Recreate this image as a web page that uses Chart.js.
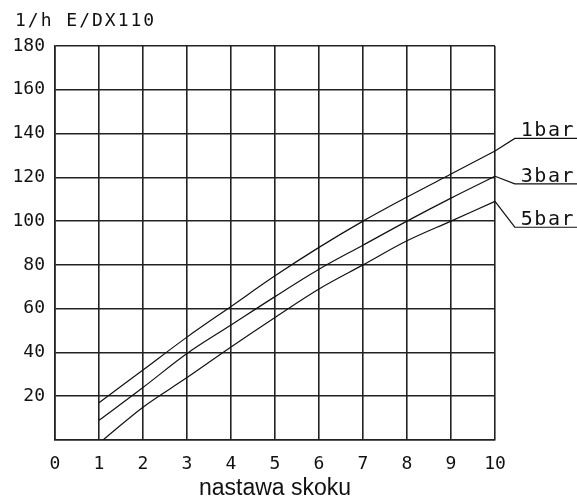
<!DOCTYPE html>
<html>
<head>
<meta charset="utf-8">
<script src="https://cdn.jsdelivr.net/npm/chart.js@4.4.1/dist/chart.umd.min.js"></script>
<style>
  html, body { margin: 0; padding: 0; background: #fff; }
</style>
</head>
<body>
<canvas id="chart" width="577" height="502"></canvas>
<script>
// Stroke setting (nastawa skoku) and flow in l/h for each back pressure
const steps = [1, 2, 3, 4, 5, 6, 7, 8, 9, 10];
const flow1bar = [17, 32, 47, 61, 75, 88, 100, 111, 121.5, 132];
const flow3bar = [9, 24, 39.5, 52.5, 65.5, 78, 89, 100, 110.5, 120.5];
const flow5bar = [-1.5, 15, 28.5, 42.5, 56, 69, 80, 91, 100, 109];
const seriesLabels = ['1bar', '3bar', '5bar'];
// leader lines going out to the labels on the right
const leaderX = [10.45, 11.9];
const leaderY = [137.8, 117, 97.2];
const unitTitle = '1/h E/DX110';
const axisTitle = 'nastawa skoku';

const plotFont = { family: '"DejaVu Sans Mono", monospace', size: 18 };
const gridColor = '#222';
const clipRight = { left: 0, top: 0, right: false, bottom: 0 };

function curve(values, i) {
    return {
        label: seriesLabels[i],
        data: steps.map((s, k) => ({ x: s, y: values[k] })),
        borderColor: '#111',
        borderWidth: 1.2,
        pointRadius: 0,
        cubicInterpolationMode: 'monotone',
        clip: clipRight
    };
}

function leader(values, i) {
    const last = steps.length - 1;
    const pts = [{ x: steps[last], y: values[last] }];
    leaderX.forEach(lx => pts.push({ x: lx, y: leaderY[i] }));
    return {
        label: seriesLabels[i] + ' leader',
        data: pts,
        borderColor: '#111',
        borderWidth: 1.2,
        pointRadius: 0,
        tension: 0,
        clip: clipRight
    };
}

// Title top-left and the bar labels
const textPlugin = {
    id: 'textPlugin',
    afterDraw(chart) {
        const { ctx, scales: { x, y } } = chart;
        ctx.save();
        ctx.fillStyle = '#111';
        ctx.font = `${plotFont.size}px ${plotFont.family}`;
        ctx.letterSpacing = '2px';
        ctx.textBaseline = 'middle';
        ctx.fillText(unitTitle, 15, 21);
        ctx.font = `20px ${plotFont.family}`;
        ctx.letterSpacing = '1.5px';
        ctx.textBaseline = 'alphabetic';
        seriesLabels.forEach((t, i) => {
            ctx.fillText(t, x.getPixelForValue(leaderX[0]) + 6, y.getPixelForValue(leaderY[i]) - 2);
        });
        ctx.restore();
    }
};

new Chart(document.getElementById('chart'), {
    type: 'line',
    data: {
        datasets: [
            curve(flow1bar, 0), curve(flow3bar, 1), curve(flow5bar, 2),
            leader(flow1bar, 0), leader(flow3bar, 1), leader(flow5bar, 2)
        ]
    },
    options: {
        responsive: false,
        animation: false,
        layout: { padding: { top: 46, right: 82, bottom: 0, left: 0 } },
        plugins: {
            legend: { display: false },
            tooltip: { enabled: false }
        },
        scales: {
            x: {
                type: 'linear',
                afterDataLimits: s => { s.min = 0; s.max = 10; },
                afterFit: s => { s.height = 62; },
                ticks: { stepSize: 1, color: '#111', font: plotFont, padding: 14, maxRotation: 0 },
                grid: { color: gridColor, lineWidth: 1.6, drawTicks: false },
                border: { display: true, color: gridColor, width: 1.6 },
                title: {
                    display: true,
                    text: axisTitle,
                    color: '#111',
                    font: { family: '"Liberation Sans", Arial, sans-serif', size: 23 },
                    padding: { top: 0, bottom: 0 }
                }
            },
            y: {
                min: 0,
                max: 180,
                afterFit: s => { s.width = 55; },
                ticks: {
                    stepSize: 20,
                    color: '#111',
                    font: plotFont,
                    padding: 10,
                    callback: v => v === 0 ? '' : v
                },
                grid: { color: gridColor, lineWidth: 1.6, drawTicks: false },
                border: { display: true, color: gridColor, width: 1.6 }
            }
        }
    },
    plugins: [textPlugin]
});
</script>
</body>
</html>
